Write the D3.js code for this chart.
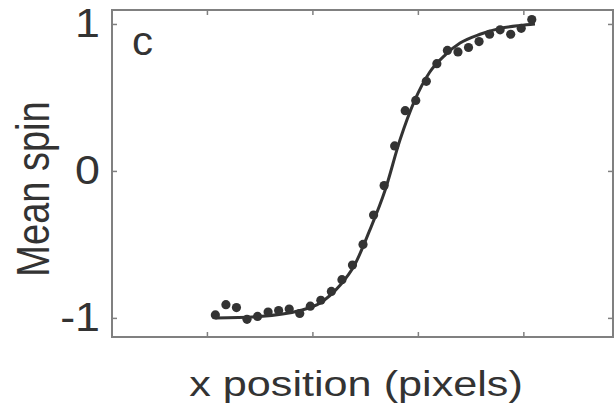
<!DOCTYPE html>
<html>
<head>
<meta charset="utf-8">
<script src="https://cdn.jsdelivr.net/npm/d3@7"></script>
<style>
  body { margin: 0; background: #fff; }
  text { font-family: "Liberation Sans", Arial, sans-serif; fill: #333; }
</style>
</head>
<body>
<div id="chart"></div>
<script>
// measured points (x in pixels, mean spin)
var xPos = [108, 118, 128, 138, 148, 158, 168, 178, 188, 198, 208, 218, 228, 238, 248, 258,
            268, 278, 288, 298, 308, 318, 328, 338, 348, 358, 368, 378, 388, 398, 408];
var spin = [-0.98, -0.91, -0.93, -1.01, -0.99, -0.96, -0.95, -0.94, -0.97, -0.92, -0.88, -0.82,
            -0.74, -0.64, -0.50, -0.30, -0.10, 0.17, 0.41, 0.48, 0.61, 0.73, 0.82, 0.81,
            0.84, 0.88, 0.93, 0.96, 0.93, 0.97, 1.03];

// fitted curve
var fitX = [108, 150, 188, 207, 226, 240, 254, 269, 283, 297, 311, 326, 340, 359, 378, 397, 411];
var fitY = [-1.0, -0.99, -0.95, -0.9, -0.78, -0.64, -0.41, -0.13, 0.21, 0.48, 0.67, 0.79,
            0.87, 0.93, 0.97, 0.99, 1.0];

var xTicks = [100, 200, 300, 400];
var yTicks = [-1, 0, 1];

var width = 614, height = 408;
var margin = {top: 10, right: 1, bottom: 71, left: 112};
var stretch = 1.2; // the source figure's lettering is a bit wide

var svg = d3.select("#chart").append("svg")
    .attr("width", width)
    .attr("height", height);

var x = d3.scaleLinear().domain([10, 485]).range([margin.left, width - margin.right]);
var y = d3.scaleLinear().domain([-1.13, 1.095]).range([height - margin.bottom, margin.top]);

var axisColor = "#808080";
var tickLen = 5;

// box
svg.append("rect")
    .attr("x", margin.left)
    .attr("y", margin.top)
    .attr("width", width - margin.right - margin.left)
    .attr("height", height - margin.bottom - margin.top)
    .attr("fill", "none")
    .attr("stroke", axisColor)
    .attr("stroke-width", 2);

// inward ticks on all four sides
var gBottom = svg.append("g").attr("transform", `translate(0,${height - margin.bottom})`)
    .call(d3.axisBottom(x).tickValues(xTicks).tickSize(-tickLen).tickFormat(""));
var gTop = svg.append("g").attr("transform", `translate(0,${margin.top})`)
    .call(d3.axisTop(x).tickValues(xTicks).tickSize(-tickLen).tickFormat(""));
var gLeft = svg.append("g").attr("transform", `translate(${margin.left},0)`)
    .call(d3.axisLeft(y).tickValues(yTicks).tickSize(-tickLen).tickPadding(12)
        .tickFormat(function(d) { return d < 0 ? "-" + Math.abs(d) : d; }));
var gRight = svg.append("g").attr("transform", `translate(${width - margin.right},0)`)
    .call(d3.axisRight(y).tickValues(yTicks).tickSize(-tickLen).tickFormat(""));

[gBottom, gTop, gLeft, gRight].forEach(function(g) {
    g.select(".domain").remove();
    g.selectAll(".tick line").attr("stroke", axisColor).attr("stroke-width", 1.5);
});

gLeft.attr("font-size", null).attr("font-family", null);
gLeft.selectAll(".tick text")
    .attr("x", 0)
    .attr("transform", `translate(-12,0) scale(${stretch - 0.08},1)`)
    .attr("font-size", 40)
    .attr("fill", "#333");

// fit line
var line = d3.line()
    .x(function(d) { return x(d[0]); })
    .y(function(d) { return y(d[1]); })
    .curve(d3.curveMonotoneX);

svg.append("path")
    .datum(d3.zip(fitX, fitY))
    .attr("d", line)
    .attr("fill", "none")
    .attr("stroke", "#333")
    .attr("stroke-width", 3);

// data points
svg.append("g")
    .selectAll("circle")
    .data(d3.zip(xPos, spin))
    .join("circle")
    .attr("cx", function(d) { return x(d[0]); })
    .attr("cy", function(d) { return y(d[1]); })
    .attr("r", 4.6)
    .attr("fill", "#333");

// panel letter
svg.append("text")
    .attr("transform", "translate(132,55) scale(1.05,1)")
    .attr("font-size", 40)
    .text("c");

// axis labels
svg.append("text")
    .attr("transform", `translate(356,396) scale(${stretch},1)`)
    .attr("text-anchor", "middle")
    .attr("font-size", 36)
    .text("x position (pixels)");

svg.append("text")
    .attr("transform", `translate(49,189) scale(${stretch},1) rotate(-90)`)
    .attr("text-anchor", "middle")
    .attr("font-size", 38)
    .text("Mean spin");
</script>
</body>
</html>
